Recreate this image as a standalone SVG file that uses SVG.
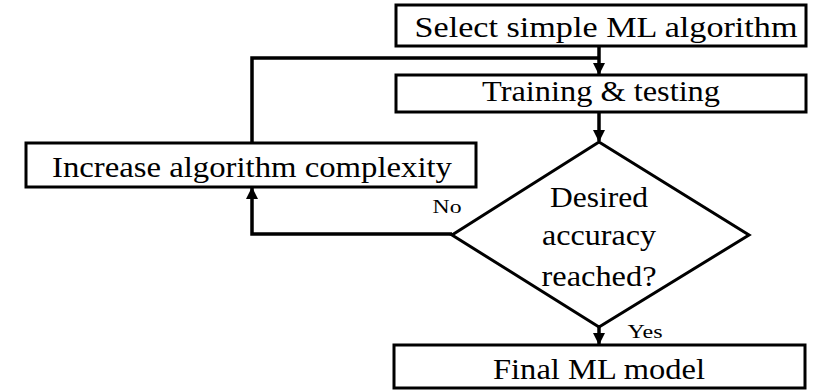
<svg xmlns="http://www.w3.org/2000/svg" width="823" height="391" viewBox="0 0 823 391">
<style>
.box{fill:#fff;stroke:#000;stroke-width:3}
.c{fill:none;stroke:#000;stroke-width:3.5}
</style>
<defs>
<marker id="ah" markerWidth="12" markerHeight="12" viewBox="0 0 12 12" refX="11" refY="6" orient="auto" markerUnits="userSpaceOnUse">
<path d="M0,0 L12,6 L0,12 Z" fill="#000"/>
</marker>
</defs>
<rect width="823" height="391" fill="#fff"/>
<g id="connectors">
<path class="c" d="M599,46 V74" marker-end="url(#ah)"/>
<path class="c" d="M252,143 V58 H599" />
<path class="c" d="M599,112 V141" marker-end="url(#ah)"/>
<path class="c" d="M452,234 H252 V188" marker-end="url(#ah)"/>
<path class="c" d="M599,327 V344" marker-end="url(#ah)"/>
</g>
<g font-family="'Liberation Serif', 'DejaVu Serif', serif" font-size="29" text-anchor="middle" fill="#000">
<g id="select">
<rect class="box" x="396" y="5" width="410" height="41"/>
<text x="606" y="37" textLength="383" lengthAdjust="spacingAndGlyphs">Select simple ML algorithm</text>
</g>
<g id="training">
<rect class="box" x="396" y="75" width="410" height="37"/>
<text x="601" y="101" textLength="238" lengthAdjust="spacingAndGlyphs">Training &amp; testing</text>
</g>
<g id="increase">
<rect class="box" x="26" y="143" width="450" height="44"/>
<text x="252" y="177" textLength="400" lengthAdjust="spacingAndGlyphs">Increase algorithm complexity</text>
</g>
<g id="decision">
<polygon class="box" points="599,142 749,235 599,327 452,235"/>
<text x="599" y="207" textLength="98" lengthAdjust="spacingAndGlyphs">Desired</text>
<text x="599" y="245" textLength="114" lengthAdjust="spacingAndGlyphs">accuracy</text>
<text x="599" y="286" textLength="115" lengthAdjust="spacingAndGlyphs">reached?</text>
</g>
<g id="final">
<rect class="box" x="394" y="345" width="411" height="43"/>
<text x="599" y="379" textLength="212" lengthAdjust="spacingAndGlyphs">Final ML model</text>
</g>
<text x="447" y="213" font-size="19" textLength="29" lengthAdjust="spacingAndGlyphs">No</text>
<text x="645" y="338" font-size="19" textLength="35" lengthAdjust="spacingAndGlyphs">Yes</text>
</g>
</svg>
